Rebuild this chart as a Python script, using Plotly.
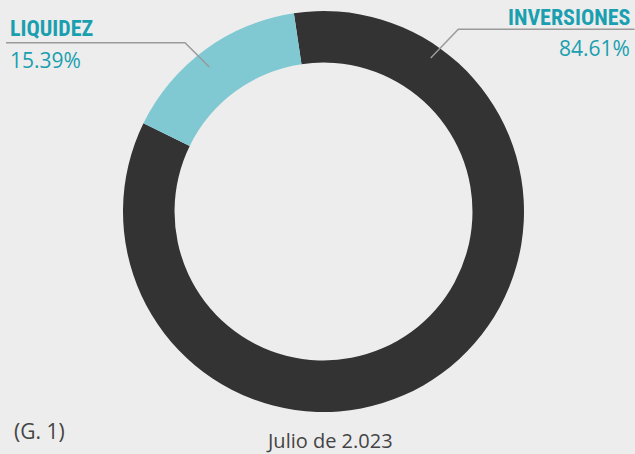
import plotly.graph_objects as go

labels = ["INVERSIONES", "LIQUIDEZ"]
values = [84.61, 15.39]
colors = ["#333333", "#80c9d3"]
pct_text = ["84.61%", "15.39%"]

W, H = 635, 454
BG = "#ededed"
TEAL = "#1a9fb0"

fig = go.Figure(go.Pie(
    labels=labels, values=values, sort=False, direction="clockwise",
    rotation=-8.5, hole=0.743,
    marker=dict(colors=colors, line=dict(width=0)),
    textinfo="none", hoverinfo="skip", showlegend=False,
    domain=dict(x=[(323.5 - 200.5) / W, (323.5 + 200.5) / W],
                y=[1 - 412 / H, 1 - 11 / H]),
))

def px(x):
    return x / W

def py(y):
    return 1 - y / H

line_style = dict(color="#9a9a9a", width=1.5)
# leader lines
fig.add_shape(type="path", xref="paper", yref="paper",
              path=f"M {px(6)},{py(42.7)} L {px(185)},{py(42.7)} L {px(209.3)},{py(67)}",
              line=line_style)
fig.add_shape(type="path", xref="paper", yref="paper",
              path=f"M {px(634.5)},{py(29.3)} L {px(458.3)},{py(29.3)} L {px(430.7)},{py(58)}",
              line=line_style)

name_font = dict(family="Liberation Sans Narrow, Arial Narrow, Roboto Condensed, Liberation Sans", size=22, color=TEAL)
pct_font = dict(family="Open Sans, Liberation Sans", size=21, color=TEAL)

fig.add_annotation(x=px(8), y=py(28.5), xref="paper", yref="paper", xanchor="left", yanchor="middle",
                   text=f"<b>{labels[1]}</b>", showarrow=False, font=name_font)
fig.add_annotation(x=px(8), y=py(60), xref="paper", yref="paper", xanchor="left", yanchor="middle",
                   text=pct_text[1], showarrow=False, font=pct_font)
fig.add_annotation(x=px(632), y=py(17.5), xref="paper", yref="paper", xanchor="right", yanchor="middle",
                   text=f"<b>{labels[0]}</b>", showarrow=False, font=name_font)
fig.add_annotation(x=px(632), y=py(48), xref="paper", yref="paper", xanchor="right", yanchor="middle",
                   text=pct_text[0], showarrow=False, font=pct_font)

fig.add_annotation(x=px(12), y=py(431), xref="paper", yref="paper", xanchor="left", yanchor="middle",
                   text="(G. 1)", showarrow=False,
                   font=dict(family="Open Sans, Liberation Sans", size=21, color="#444444"))
fig.add_annotation(x=px(329.5), y=py(440.5), xref="paper", yref="paper", xanchor="center", yanchor="middle",
                   text="Julio de 2.023", showarrow=False,
                   font=dict(family="Open Sans, Liberation Sans", size=20, color="#444444"))

fig.update_layout(width=W, height=H, margin=dict(l=0, r=0, t=0, b=0),
                  paper_bgcolor=BG, plot_bgcolor=BG, hovermode=False)

fig.write_html("out.html", config={"displayModeBar": False, "staticPlot": True},
               post_script="document.body.style.margin='0';document.body.style.overflow='hidden';document.body.style.background='" + BG + "';")
